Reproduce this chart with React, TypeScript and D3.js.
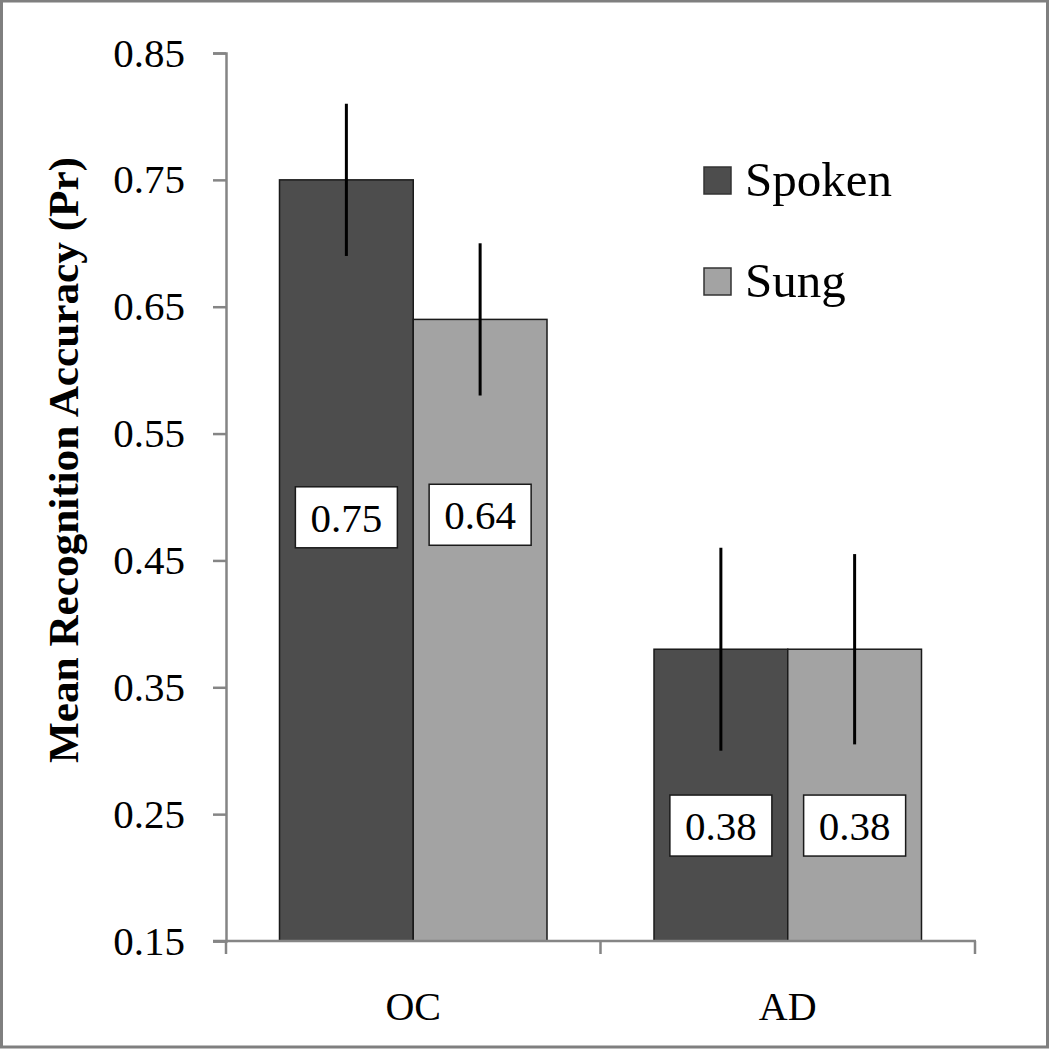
import React, { useEffect, useRef } from "react";
import * as d3 from "d3";

const groups = ["OC", "AD"];
const series = ["Spoken", "Sung"];
const meanValues = [
  [0.75, 0.64],
  [0.38, 0.38],
];
const errorValues = [
  [0.06, 0.06],
  [0.08, 0.075],
];
// where the value boxes sit, in axis units
const labelAt = [
  [0.484, 0.486],
  [0.241, 0.241],
];
const yTicks = [0.15, 0.25, 0.35, 0.45, 0.55, 0.65, 0.75, 0.85];
const colors = ["#4d4d4d", "#a3a3a3"];

const W = 1050;
const H = 1049;
const MARGIN = { top: 53, right: 75, bottom: 108, left: 226 };
const FONT = "'Liberation Serif', 'Times New Roman', serif";
const AXIS_COLOR = "#858585";

const App = () => {
  const yAxisRef = useRef<SVGGElement>(null);

  const x0 = d3
    .scaleBand()
    .domain(groups)
    .range([MARGIN.left, W - MARGIN.right])
    .padding(0);
  const x1 = d3
    .scaleBand()
    .domain(series)
    .range([0, x0.bandwidth()])
    .paddingInner(0)
    .paddingOuter(0.4);
  const y = d3
    .scaleLinear()
    .domain([0.15, 0.85])
    .range([H - MARGIN.bottom, MARGIN.top]);

  useEffect(() => {
    const g = d3.select(yAxisRef.current);
    g.selectAll("*").remove();
    g.call(
      d3
        .axisLeft(y)
        .tickValues(yTicks)
        .tickFormat(d3.format(".2f"))
        .tickSize(13)
        .tickPadding(28)
    );
    g.select(".domain").attr("stroke", AXIS_COLOR).attr("stroke-width", 2.5);
    g.selectAll(".tick line").attr("stroke", AXIS_COLOR).attr("stroke-width", 2.5);
    g.selectAll(".tick text")
      .attr("fill", "#000")
      .style("font-family", FONT)
      .style("font-size", "41px");
  }, []);

  const baseY = y(0.15);

  return (
    <svg
      width={W}
      height={H}
      style={{ position: "absolute", left: 0, top: 0, background: "#fff" }}
    >
      <rect x={1.5} y={1} width={1046} height={1046} fill="#fff" stroke="#7f7f7f" strokeWidth={3} />

      {/* bars */}
      {groups.map((grp, gi) =>
        series.map((s, si) => (
          <rect
            key={grp + s}
            x={(x0(grp) ?? 0) + (x1(s) ?? 0)}
            y={y(meanValues[gi][si])}
            width={x1.bandwidth()}
            height={baseY - y(meanValues[gi][si])}
            fill={colors[si]}
            stroke="#1a1a1a"
            strokeWidth={1.5}
          />
        ))
      )}

      {/* x axis */}
      <line x1={213} x2={W - MARGIN.right + 1} y1={baseY} y2={baseY} stroke={AXIS_COLOR} strokeWidth={2.5} />
      {[...groups.map((g) => x0(g) ?? 0), W - MARGIN.right].map((xv, i) => (
        <line key={i} x1={xv} x2={xv} y1={baseY} y2={baseY + 13} stroke={AXIS_COLOR} strokeWidth={2.5} />
      ))}
      {groups.map((grp) => (
        <text
          key={grp}
          x={(x0(grp) ?? 0) + x0.bandwidth() / 2}
          y={1020}
          textAnchor="middle"
          fontFamily={FONT}
          fontSize={40}
        >
          {grp}
        </text>
      ))}

      <g ref={yAxisRef} transform={`translate(${MARGIN.left},0)`} />

      {/* error bars */}
      {groups.map((grp, gi) =>
        series.map((s, si) => {
          const cx = (x0(grp) ?? 0) + (x1(s) ?? 0) + x1.bandwidth() / 2;
          const m = meanValues[gi][si];
          const e = errorValues[gi][si];
          return (
            <line
              key={"e" + grp + s}
              x1={cx}
              x2={cx}
              y1={y(m + e)}
              y2={y(m - e)}
              stroke="#000"
              strokeWidth={3}
            />
          );
        })
      )}

      {/* value boxes */}
      {groups.map((grp, gi) =>
        series.map((s, si) => {
          const cx = (x0(grp) ?? 0) + (x1(s) ?? 0) + x1.bandwidth() / 2;
          const cy = y(labelAt[gi][si]);
          return (
            <g key={"l" + grp + s}>
              <rect x={cx - 51} y={cy - 30.5} width={102} height={61} fill="#fff" stroke="#1a1a1a" strokeWidth={1.5} />
              <text x={cx} y={cy} dy="0.35em" textAnchor="middle" fontFamily={FONT} fontSize={41}>
                {meanValues[gi][si].toFixed(2)}
              </text>
            </g>
          );
        })
      )}

      {/* legend */}
      {series.map((s, si) => (
        <g key={"lg" + s} transform={`translate(704,${167 + si * 101})`}>
          <rect x={0} y={0} width={27} height={27} fill={colors[si]} stroke="#333" strokeWidth={1.5} />
          <text x={41} y={29} fontFamily={FONT} fontSize={49}>
            {s}
          </text>
        </g>
      ))}

      {/* y title */}
      <text
        transform={`translate(78,${460}) rotate(-90)`}
        textAnchor="middle"
        fontFamily={FONT}
        fontWeight="bold"
        fontSize={42}
        textLength={606}
        lengthAdjust="spacingAndGlyphs"
      >
        Mean Recognition Accuracy (Pr)
      </text>
    </svg>
  );
};

export default App;
